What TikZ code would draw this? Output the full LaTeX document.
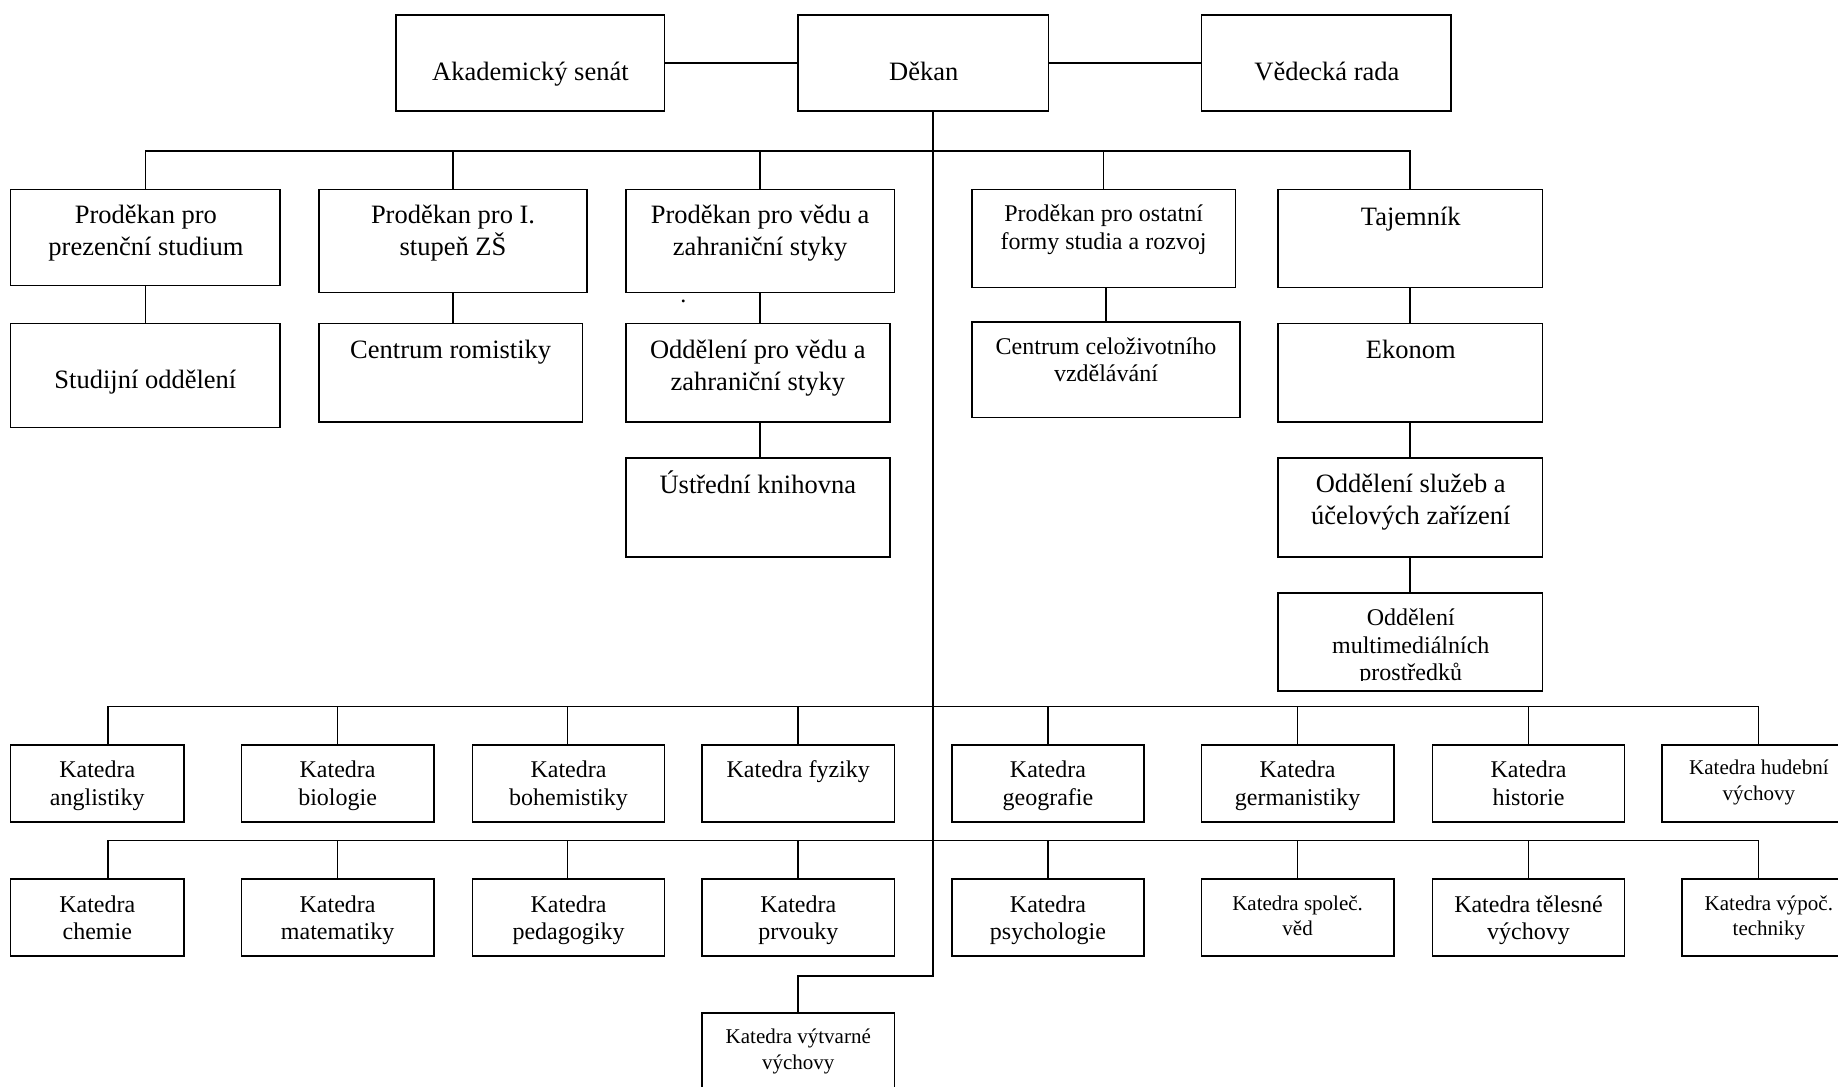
\documentclass[tikz,border=0pt]{standalone}
\usepackage{fontspec}
\setmainfont{Liberation Serif}
\usetikzlibrary{fit}
\tikzset{
 bx/.style={draw, line width=1.6pt, inner sep=0pt},
 ln/.style={line width=1.6pt},
 fL/.style={font=\fontsize{26.5}{31.7}\selectfont},
 fM/.style={font=\fontsize{24}{27.5}\selectfont},
 fS/.style={font=\fontsize{21}{25.6}\selectfont},
 tx/.style={anchor=base, inner sep=0pt},
}
\newcommand\mkbox[5]{\node[bx, fit={(#2,#3) (#4,#5)}] (#1) {};}
\newcommand\mktxt[5]{\node[tx,#2] (#1) at (#3,#4) {\begin{tabular}[t]{@{}c@{}}#5\end{tabular}};}
\begin{document}
\begin{tikzpicture}[x=1.17219pt,y=-1.17279pt]
\useasboundingbox (0,0) rectangle (1568,926);
% top row
\mkbox{as}{338}{13}{567}{94.5}
\mktxt{ast}{fL}{452.5}{69}{Akademický senát}
\mkbox{dek}{681}{13}{894.5}{94.5}
\mktxt{dekt}{fL}{788}{69}{Děkan}
\mkbox{vr}{1025}{13}{1238}{94.5}
\mktxt{vrt}{fL}{1132}{69}{Vědecká rada}
% proděkani
\mkbox{pp}{9}{161.5}{239}{243.5}
\mktxt{ppt}{fL}{124.5}{190.5}{Proděkan pro\\prezenční studium}
\mkbox{pz}{272}{161.5}{501}{249.5}
\mktxt{pzt}{fL}{386.5}{190.5}{Proděkan pro I.\\stupeň ZŠ}
\mkbox{pv}{534}{161.5}{763}{249.5}
\mktxt{pvt}{fL}{648.5}{190.5}{Proděkan pro vědu a\\zahraniční styky}
\mkbox{po}{829}{161.5}{1054}{245}
\mktxt{pot}{fM}{941.5}{189}{Proděkan pro ostatní\\formy studia a rozvoj}
\mkbox{taj}{1090}{161.5}{1316}{245}
\mktxt{tajt}{fL}{1203.5}{192}{Tajemník}
% second row
\mkbox{so}{9}{275.7}{239}{364.5}
\mktxt{sot}{fL}{124}{331}{Studijní oddělení}
\mkbox{cr}{272}{275.7}{497}{360}
\mktxt{crt}{fL}{384.5}{305.6}{Centrum romistiky}
\mkbox{ov}{534}{275.7}{759}{360}
\mktxt{ovt}{fL}{646.5}{305.6}{Oddělení pro vědu a\\zahraniční styky}
\mkbox{cc}{829}{274.6}{1058}{356}
\mktxt{cct}{fM}{943.5}{302}{Centrum celoživotního\\vzdělávání}
\mkbox{ek}{1090}{275.7}{1316}{360}
\mktxt{ekt}{fL}{1203.5}{305.6}{Ekonom}
\node[tx,fM] (dot) at (583,258) {.};
% third row
\mkbox{uk}{534}{390.4}{759}{474.8}
\mktxt{ukt}{fL}{646.5}{421}{Ústřední knihovna}
\mkbox{os}{1090}{390.4}{1316}{474.8}
\mktxt{ost}{fL}{1203.5}{420}{Oddělení služeb a\\účelových zařízení}
\mkbox{om}{1090}{505.4}{1316}{589.4}
\begin{scope}
\clip (1092,507) rectangle (1314,580.5);
\mktxt{omt}{fM}{1203.5}{533.5}{Oddělení\\multimediálních\\prostředků}
\end{scope}
% katedry row 1
\mkbox{ka}{9}{635}{157}{700.7}
\mktxt{kat}{fM}{83}{663}{Katedra\\anglistiky}
\mkbox{kb}{206}{635}{370}{700.7}
\mktxt{kbt}{fM}{288}{663}{Katedra\\biologie}
\mkbox{kbo}{403}{635}{567}{700.7}
\mktxt{kbot}{fM}{485}{663}{Katedra\\bohemistiky}
\mkbox{kf}{599}{635}{763}{700.7}
\mktxt{kft}{fM}{681}{663}{Katedra fyziky}
\mkbox{kg}{812}{635}{976}{700.7}
\mktxt{kgt}{fM}{894}{663}{Katedra\\geografie}
\mkbox{kge}{1025}{635}{1189}{700.7}
\mktxt{kget}{fM}{1107}{663}{Katedra\\germanistiky}
\mkbox{kh}{1222}{635}{1386}{700.7}
\mktxt{kht}{fM}{1304}{663}{Katedra\\historie}
\mkbox{khu}{1418}{635}{1600}{700.7}
\mktxt{khut}{fS}{1500.5}{660.7}{Katedra hudební\\výchovy}
% katedry row 2
\mkbox{kc}{9}{749.6}{157}{815}
\mktxt{kct}{fM}{83}{777.8}{Katedra\\chemie}
\mkbox{km}{206}{749.6}{370}{815}
\mktxt{kmt}{fM}{288}{777.8}{Katedra\\matematiky}
\mkbox{kp}{403}{749.6}{567}{815}
\mktxt{kpt}{fM}{485}{777.8}{Katedra\\pedagogiky}
\mkbox{kpr}{599}{749.6}{763}{815}
\mktxt{kprt}{fM}{681}{777.8}{Katedra\\prvouky}
\mkbox{kps}{812}{749.6}{976}{815}
\mktxt{kpst}{fM}{894}{777.8}{Katedra\\psychologie}
\mkbox{ksv}{1025}{749.6}{1189}{815}
\mktxt{ksvt}{fS}{1107}{776}{Katedra společ.\\věd}
\mkbox{kt}{1222}{749.6}{1386}{815}
\mktxt{ktt}{fM}{1304}{777.8}{Katedra tělesné\\výchovy}
\mkbox{kvt}{1435}{749.6}{1600}{815}
\mktxt{kvtt}{fS}{1509}{776}{Katedra výpoč.\\techniky}
% row 3
\mkbox{kvv}{599}{863.8}{763}{960}
\mktxt{kvvt}{fS}{681}{890}{Katedra výtvarné\\výchovy}
% connectors top
\draw[ln] (as.east) -- (dek.west);
\draw[ln] (dek.east) -- (vr.west);
\coordinate (b1) at (796,128.5);
\coordinate (b2) at (796,602.3);
\coordinate (b3) at (796,716.6);
\coordinate (tkc) at (796,832);
\draw[ln] (dek.south -| tkc) -- (tkc) -| (kvv.north);
\draw[ln] (pp.north) -- (pp.north |- b1) -- (taj.north |- b1) -- (taj.north);
\foreach \n in {pz,pv,po} \draw[ln] (\n.north) -- (\n.north |- b1);
\draw[ln] (pp.south) -- (so.north);
\draw[ln] (pz.south) -- (pz.south |- cr.north);
\draw[ln] (pv.south) -- (pv.south |- ov.north);
\draw[ln] (ov.south -| pv.south) -- (uk.north -| pv.south);
\draw[ln] (cc.north |- po.south) -- (cc.north);
\draw[ln] (taj.south) -- (ek.north);
\draw[ln] (ek.south) -- (os.north);
\draw[ln] (os.south) -- (om.north);
% katedry buses
\coordinate (c1) at (92,0);
\coordinate (c2) at (288,0);
\coordinate (c3) at (484,0);
\coordinate (c4) at (681,0);
\coordinate (c5) at (894,0);
\coordinate (c6) at (1107,0);
\coordinate (c7) at (1304,0);
\coordinate (c8) at (1500,0);
\draw[ln] (c1 |- b2) -- (c8 |- b2);
\draw[ln] (c1 |- b3) -- (c8 |- b3);
\foreach \c/\a/\b in {c1/ka/kc, c2/kb/km, c3/kbo/kp, c4/kf/kpr, c5/kg/kps, c6/kge/ksv, c7/kh/kt, c8/khu/kvt}{
  \draw[ln] (\c |- b2) -- (\c |- \a.north);
  \draw[ln] (\c |- b3) -- (\c |- \b.north);
}
\end{tikzpicture}
\end{document}
